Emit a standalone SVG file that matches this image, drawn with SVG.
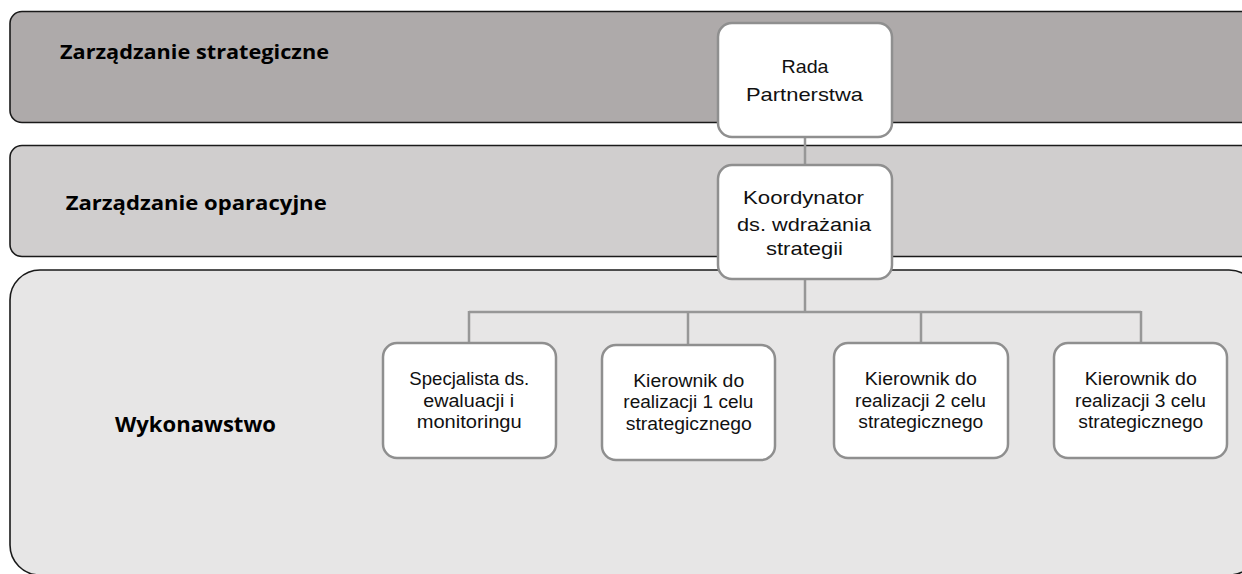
<svg xmlns="http://www.w3.org/2000/svg" width="1242" height="574" viewBox="0 0 1242 574">
<style>
.band{stroke:#1a1a1a;stroke-width:1.6}
.node{fill:#ffffff;stroke:#8f8f8f;stroke-width:2.5}
.conn{fill:none;stroke:#979797;stroke-width:2.5}
.lbl{font-family:"Open Sans","Liberation Sans",sans-serif;font-weight:bold;fill:#000}
.nt{font-family:"Liberation Sans",Arial,sans-serif;fill:#111;text-anchor:middle}
.big{font-size:18.5px}
.small{font-size:17.5px}
</style>
<rect width="1242" height="574" fill="#ffffff"/>
<g id="band-strategic">
<rect class="band" x="10" y="11.5" width="1260" height="111" rx="12" fill="#aeaaaa"/>
<text class="lbl" x="60" y="59" font-size="18.8" textLength="269" lengthAdjust="spacingAndGlyphs">Zarządzanie strategiczne</text>
</g>
<g id="band-operational">
<rect class="band" x="10" y="145.5" width="1260" height="111" rx="12" fill="#d0cece"/>
<text class="lbl" x="65.7" y="210" font-size="18.8" textLength="261" lengthAdjust="spacingAndGlyphs">Zarządzanie oparacyjne</text>
</g>
<g id="band-execution">
<rect class="band" x="10" y="270" width="1249" height="305" rx="30" fill="#e7e6e6"/>
<text class="lbl" x="115" y="431.5" font-size="22" textLength="161" lengthAdjust="spacingAndGlyphs">Wykonawstwo</text>
</g>
<g id="connectors">
<line class="conn" x1="805" y1="137" x2="805" y2="165"/>
<line class="conn" x1="805" y1="279" x2="805" y2="312"/>
<line class="conn" x1="469" y1="312" x2="1141" y2="312"/>
<line class="conn" x1="469" y1="311" x2="469" y2="343"/>
<line class="conn" x1="688" y1="311" x2="688" y2="345"/>
<line class="conn" x1="921" y1="311" x2="921" y2="343"/>
<line class="conn" x1="1141" y1="311" x2="1141" y2="343"/>
</g>
<g id="node-rada">
<rect class="node" x="718" y="23" width="174" height="114" rx="14"/>
<text class="nt big" x="805" y="73.3" textLength="47" lengthAdjust="spacingAndGlyphs">Rada</text>
<text class="nt big" x="804.5" y="100.7" textLength="117" lengthAdjust="spacingAndGlyphs">Partnerstwa</text>
</g>
<g id="node-koordynator">
<rect class="node" x="718" y="165" width="174" height="114" rx="14"/>
<text class="nt big" x="803.5" y="204" textLength="121" lengthAdjust="spacingAndGlyphs">Koordynator</text>
<text class="nt big" x="804" y="230.5" textLength="134" lengthAdjust="spacingAndGlyphs">ds. wdrażania</text>
<text class="nt big" x="804.5" y="255" textLength="77" lengthAdjust="spacingAndGlyphs">strategii</text>
</g>
<g id="node-specjalista">
<rect class="node" x="383" y="343" width="173" height="115" rx="14"/>
<text class="nt small" x="469.3" y="385" textLength="120" lengthAdjust="spacingAndGlyphs">Specjalista ds.</text>
<text class="nt small" x="468.7" y="406.5" textLength="91" lengthAdjust="spacingAndGlyphs">ewaluacji i</text>
<text class="nt small" x="469.2" y="428" textLength="105" lengthAdjust="spacingAndGlyphs">monitoringu</text>
</g>
<g id="node-kierownik1">
<rect class="node" x="602" y="345" width="173" height="115" rx="14"/>
<text class="nt small" x="688.7" y="386.7" textLength="111" lengthAdjust="spacingAndGlyphs">Kierownik do</text>
<text class="nt small" x="688.3" y="408" textLength="130" lengthAdjust="spacingAndGlyphs">realizacji 1 celu</text>
<text class="nt small" x="688.8" y="429.5" textLength="126" lengthAdjust="spacingAndGlyphs">strategicznego</text>
</g>
<g id="node-kierownik2">
<rect class="node" x="834" y="343" width="174" height="115" rx="14"/>
<text class="nt small" x="920.8" y="385" textLength="112" lengthAdjust="spacingAndGlyphs">Kierownik do</text>
<text class="nt small" x="920.5" y="406.5" textLength="131" lengthAdjust="spacingAndGlyphs">realizacji 2 celu</text>
<text class="nt small" x="920.8" y="428" textLength="125" lengthAdjust="spacingAndGlyphs">strategicznego</text>
</g>
<g id="node-kierownik3">
<rect class="node" x="1054" y="343" width="173" height="115" rx="14"/>
<text class="nt small" x="1140.8" y="385" textLength="112" lengthAdjust="spacingAndGlyphs">Kierownik do</text>
<text class="nt small" x="1140.5" y="406.5" textLength="131" lengthAdjust="spacingAndGlyphs">realizacji 3 celu</text>
<text class="nt small" x="1140.8" y="428" textLength="125" lengthAdjust="spacingAndGlyphs">strategicznego</text>
</g>
</svg>
